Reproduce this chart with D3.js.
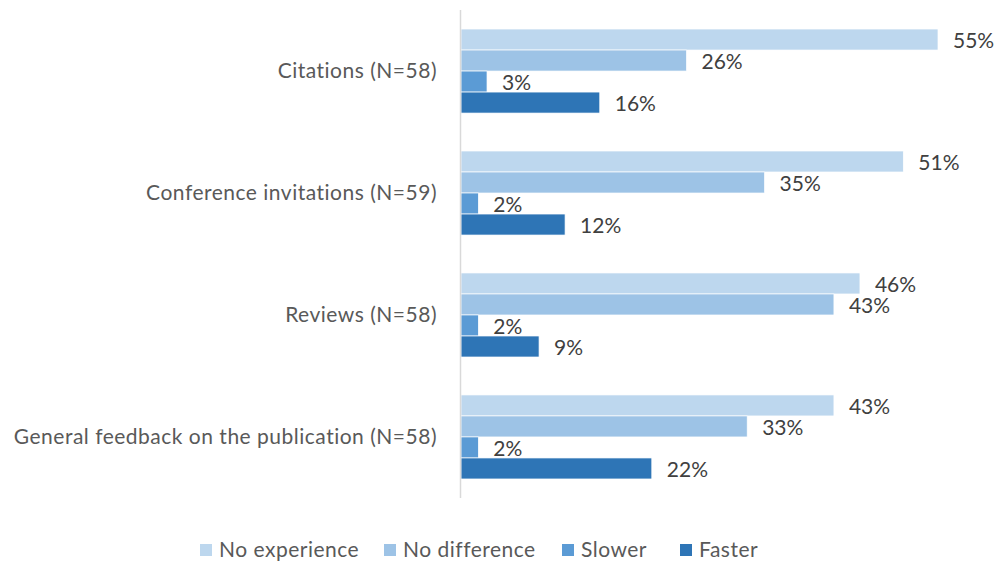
<!DOCTYPE html>
<html>
<head>
<meta charset="utf-8">
<script src="https://cdn.jsdelivr.net/npm/d3@7"></script>
<style>
  html, body { margin: 0; padding: 0; background: #fff; }
  svg { display: block; }
  text { font-family: "Lato", "Open Sans", sans-serif; }
</style>
</head>
<body>
<svg id="chart" width="1001" height="562"></svg>
<script>
// Survey categories (top to bottom) and the four response series
const categories = [
  "Citations (N=58)",
  "Conference invitations (N=59)",
  "Reviews (N=58)",
  "General feedback on the publication (N=58)"
];
const seriesNames = ["No experience", "No difference", "Slower", "Faster"];
const seriesColors = ["#BDD7EE", "#9DC3E6", "#5B9BD5", "#2E75B6"];

// Percentages per series, in category order
const noExperience = [55, 51, 46, 43];
const noDifference = [26, 35, 43, 33];
const slower       = [3, 2, 2, 2];
const faster       = [16, 12, 9, 22];

const seriesValues = [noExperience, noDifference, slower, faster];

const svg = d3.select("#chart");

const plotTop = 10, plotBottom = 498;
const x0 = 461;
const fontSize = 21;

const x = d3.scaleLinear().domain([0, 55]).range([x0, 938]);

const y = d3.scaleBand()
  .domain(categories)
  .range([plotTop, plotBottom])
  .paddingInner(0.311)
  .paddingOuter(0.156);

const ySub = d3.scaleBand()
  .domain(seriesNames)
  .range([0, y.bandwidth()]);

// Flatten into one record per bar
const bars = [];
categories.forEach((c, i) => {
  seriesNames.forEach((s, j) => {
    bars.push({ cat: c, series: s, color: seriesColors[j], value: seriesValues[j][i] });
  });
});

// Bars
svg.append("g").selectAll("rect")
  .data(bars)
  .join("rect")
  .attr("x", x(0))
  .attr("y", d => y(d.cat) + ySub(d.series))
  .attr("width", d => x(d.value) - x(0))
  .attr("height", ySub.bandwidth())
  .attr("fill", d => d.color)
  .attr("stroke", "#fff")
  .attr("stroke-width", 0.7);

// Value labels
svg.append("g").selectAll("text")
  .data(bars)
  .join("text")
  .attr("x", d => x(d.value) + 15)
  .attr("y", d => y(d.cat) + ySub(d.series) + ySub.bandwidth() / 2 + 1)
  .attr("dy", "0.35em")
  .attr("fill", "#404040")
  .attr("font-size", fontSize)
  .text(d => d.value + "%");

// Vertical category axis line
svg.append("line")
  .attr("x1", 460.5).attr("x2", 460.5)
  .attr("y1", plotTop).attr("y2", plotBottom)
  .attr("stroke", "#D9D9D9")
  .attr("stroke-width", 1.5);

// Category labels
svg.append("g").selectAll("text")
  .data(categories)
  .join("text")
  .attr("x", 437)
  .attr("y", d => y(d) + y.bandwidth() / 2)
  .attr("dy", "0.35em")
  .attr("text-anchor", "end")
  .attr("fill", "#595959")
  .attr("font-size", fontSize)
  .attr("letter-spacing", 0.5)
  .text(d => d);

// Legend
const legendX = [200, 384, 562, 680];
const legend = svg.append("g").selectAll("g")
  .data(seriesNames)
  .join("g")
  .attr("transform", (d, i) => `translate(${legendX[i]},550)`);
legend.append("rect")
  .attr("x", 0).attr("y", -6)
  .attr("width", 12).attr("height", 12)
  .attr("fill", (d, i) => seriesColors[i]);
legend.append("text")
  .attr("x", 19).attr("y", 0)
  .attr("dy", "0.35em")
  .attr("fill", "#595959")
  .attr("font-size", fontSize)
  .attr("letter-spacing", 0.5)
  .text(d => d);
</script>
</body>
</html>
